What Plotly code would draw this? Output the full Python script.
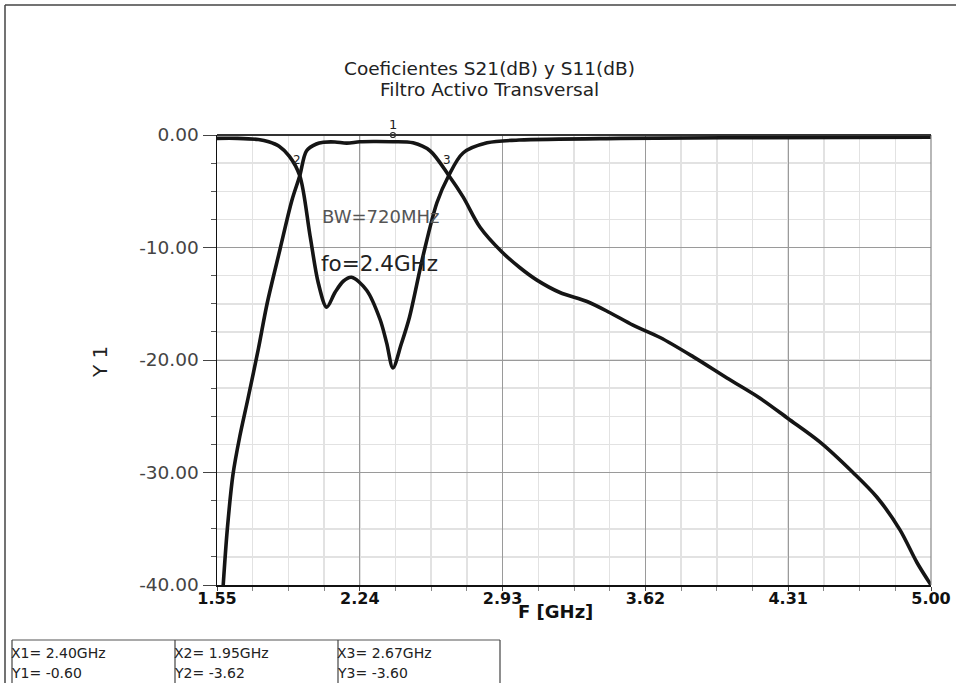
import plotly.graph_objects as go

# ---------------- data ----------------
s21_f = [1.58, 1.60, 1.627, 1.66, 1.70, 1.75, 1.792, 1.854, 1.912, 1.95, 1.983, 2.03, 2.064, 2.12, 2.177, 2.24, 2.32, 2.40,
         2.497, 2.579, 2.67, 2.739, 2.821, 2.927, 3.014, 3.096, 3.207, 3.338, 3.449, 3.560, 3.691,
         3.850, 4.014, 4.174, 4.309, 4.464, 4.623, 4.739, 4.850, 4.932, 5.00]
s21_db = [-40.0, -35.0, -30.2, -26.8, -23.4, -19.0, -15.0, -10.2, -5.8, -3.62, -1.4, -0.8, -0.65, -0.62, -0.72, -0.6, -0.58, -0.60,
          -0.7, -1.4, -3.6, -5.5, -8.2, -10.4, -11.8, -12.9, -14.0, -14.8, -15.8, -16.9, -18.0,
          -19.7, -21.6, -23.4, -25.2, -27.3, -30.0, -32.2, -35.1, -38.0, -40.0]

s11_f = [1.55, 1.65, 1.75, 1.80, 1.85, 1.90, 1.95, 2.00, 2.04, 2.08, 2.12, 2.16, 2.20, 2.273, 2.338,
         2.37, 2.40, 2.44, 2.48, 2.545, 2.613, 2.67, 2.739, 2.855, 3.01, 3.5, 4.0, 5.0]
s11_db = [-0.3, -0.3, -0.4, -0.6, -1.0, -1.9, -3.62, -9.0, -13.2, -15.3, -14.0, -13.0, -12.65, -13.8, -16.4,
          -18.5, -20.7, -18.6, -16.2, -10.8, -6.0, -3.6, -1.6, -0.7, -0.45, -0.3, -0.25, -0.2]

x_tickvals = [1.55, 2.24, 2.93, 3.62, 4.31, 5.00]
x_ticktext = ["1.55", "2.24", "2.93", "3.62", "4.31", "5.00"]
y_tickvals = [0, -10, -20, -30, -40]
y_ticktext = ["0.00", "-10.00", "-20.00", "-30.00", "-40.00"]

marker_labels = ["1", "2", "3"]
marker_f = [2.40, 1.95, 2.67]
marker_db = [-0.60, -3.62, -3.60]
table_x = ["X1= 2.40GHz", "X2= 1.95GHz", "X3= 2.67GHz"]
table_y = ["Y1= -0.60", "Y2= -3.62", "Y3= -3.60"]

title_lines = ["Coeficientes S21(dB) y S11(dB)", "Filtro Activo Transversal"]

# ---------------- figure ----------------
W, H = 956, 683
L, R, T, B = 217, 931, 135, 585


def px(x):
    return (x - L) / (R - L)


def py(y):
    return (B - y) / (B - T)


FONT = "DejaVu Sans, Verdana, sans-serif"
fig = go.Figure()
line_style = dict(color="#151515", width=3.6, shape="spline", smoothing=0.9)
fig.add_trace(go.Scatter(x=s21_f, y=s21_db, mode="lines", line=line_style, name="S21", hoverinfo="skip"))
fig.add_trace(go.Scatter(x=s11_f, y=s11_db, mode="lines", line=line_style, name="S11", hoverinfo="skip"))

# marker 1 symbol
fig.add_trace(go.Scatter(x=[marker_f[0]], y=[0], mode="markers",
                         marker=dict(symbol="circle-open", size=5, color="#222", line=dict(width=1.2)),
                         cliponaxis=False, hoverinfo="skip"))

annotations = []
# title
annotations.append(dict(x=px(489), y=py(68), xref="paper", yref="paper", text=title_lines[0],
                        showarrow=False, font=dict(family=FONT, size=18.5, color="#222"), xanchor="center", yanchor="middle"))
annotations.append(dict(x=px(489), y=py(90), xref="paper", yref="paper", text=title_lines[1],
                        showarrow=False, font=dict(family=FONT, size=18.5, color="#222"), xanchor="center", yanchor="middle"))
# axis titles
annotations.append(dict(x=px(555), y=py(611), xref="paper", yref="paper", text="<b>F [GHz]</b>",
                        showarrow=False, font=dict(family=FONT, size=18, color="#111"), xanchor="center", yanchor="middle"))
annotations.append(dict(x=px(100), y=py(362), xref="paper", yref="paper", text="Y 1", textangle=-90,
                        showarrow=False, font=dict(family=FONT, size=20, color="#222"), xanchor="center", yanchor="middle"))
# in-plot texts
annotations.append(dict(x=px(380), y=py(217), xref="paper", yref="paper", text="BW=720MHz",
                        showarrow=False, font=dict(family=FONT, size=18, color="#555"), xanchor="center", yanchor="middle"))
annotations.append(dict(x=px(379), y=py(263), xref="paper", yref="paper", text="fo=2.4GHz",
                        showarrow=False, font=dict(family=FONT, size=21.5, color="#222"), xanchor="center", yanchor="middle"))
# marker labels
annotations.append(dict(x=marker_f[0], y=0, xref="x", yref="y", text=marker_labels[0], showarrow=False,
                        font=dict(family=FONT, size=13, color="#222"), yanchor="bottom", yshift=1))
annotations.append(dict(x=marker_f[1], y=marker_db[1], xref="x", yref="y", text=marker_labels[1], showarrow=False,
                        font=dict(family=FONT, size=12, color="#222"), yanchor="bottom", yshift=7, xshift=-3))
annotations.append(dict(x=marker_f[2], y=marker_db[2], xref="x", yref="y", text=marker_labels[2], showarrow=False,
                        font=dict(family=FONT, size=12, color="#222"), yanchor="bottom", yshift=7, xshift=-2))

shapes = []
# outer frame (left and top)
shapes.append(dict(type="line", xref="paper", yref="paper", x0=px(5), x1=px(960), y0=py(5), y1=py(5),
                   line=dict(color="#444", width=1.5)))
shapes.append(dict(type="line", xref="paper", yref="paper", x0=px(5), x1=px(5), y0=py(5), y1=py(690),
                   line=dict(color="#444", width=1.5)))
# right border of plot
shapes.append(dict(type="line", xref="paper", yref="paper", x0=1, x1=1, y0=0, y1=1,
                   line=dict(color="#888", width=1.2)))

# marker table
cell_edges = [12, 175, 338, 500]
shapes.append(dict(type="line", xref="paper", yref="paper", x0=px(cell_edges[0]), x1=px(cell_edges[-1]),
                   y0=py(640), y1=py(640), line=dict(color="#555", width=1.2)))
for i, e in enumerate(cell_edges):
    shapes.append(dict(type="line", xref="paper", yref="paper", x0=px(e), x1=px(e), y0=py(640), y1=py(690),
                       line=dict(color="#444", width=1.2)))
for i in range(3):
    x0 = cell_edges[i] - 3
    annotations.append(dict(x=px(x0), y=py(653), xref="paper", yref="paper", text=table_x[i], showarrow=False,
                            font=dict(family=FONT, size=14, color="#222"), xanchor="left", yanchor="middle"))
    annotations.append(dict(x=px(x0), y=py(673), xref="paper", yref="paper", text=table_y[i], showarrow=False,
                            font=dict(family=FONT, size=14, color="#222"), xanchor="left", yanchor="middle"))

fig.update_layout(
    width=W, height=H, autosize=False,
    margin=dict(l=L, r=W - R, t=T, b=H - B, pad=0, autoexpand=False),
    paper_bgcolor="white", plot_bgcolor="white",
    showlegend=False, hovermode=False,
    annotations=annotations, shapes=shapes,
    font=dict(family=FONT),
)
fig.update_xaxes(
    range=[1.55, 5.00], tickvals=x_tickvals, ticktext=x_ticktext,
    showgrid=True, gridcolor="#9a9a9a", gridwidth=1,
    minor=dict(dtick=0.1725, tick0=1.55, showgrid=True, gridcolor="#e2e2e2", gridwidth=1.5,
               ticks="outside", ticklen=4, tickcolor="#888"),
    ticks="outside", ticklen=4, tickcolor="#444", ticklabelstandoff=-6,
    showline=True, linecolor="#111", linewidth=2, mirror=False, automargin=False,
    tickfont=dict(family=FONT, size=16, color="#111", weight="bold"),
    zeroline=False, fixedrange=True,
)
fig.update_yaxes(
    range=[-40, 0], tickvals=y_tickvals, ticktext=y_ticktext,
    showgrid=True, gridcolor="#9a9a9a", gridwidth=1,
    minor=dict(dtick=2.5, tick0=0, showgrid=True, gridcolor="#e2e2e2", gridwidth=1.5,
               ticks="outside", ticklen=5, tickcolor="#555"),
    ticks="outside", ticklen=13, tickcolor="#444", automargin=False,
    showline=True, linecolor="#111", linewidth=1.5,
    tickfont=dict(family=FONT, size=18.5, color="#444"),
    zeroline=False, fixedrange=True,
)
# top border
fig.add_shape(type="line", xref="paper", yref="paper", x0=0, x1=1, y0=1, y1=1,
              line=dict(color="#333", width=2))

fig.write_html("out.html", config={"responsive": False, "displayModeBar": False, "staticPlot": True},
               post_script="document.body.style.margin='0px';")
